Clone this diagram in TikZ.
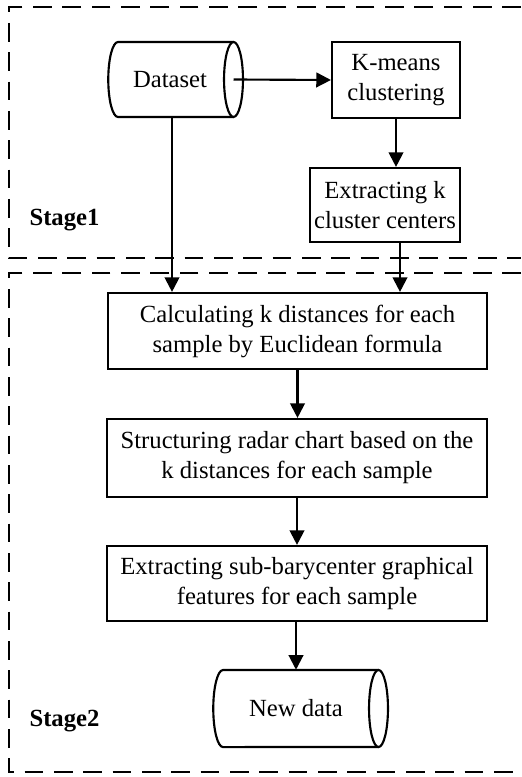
\documentclass[tikz,border=0pt]{standalone}
\usepackage{fontspec}
\setmainfont{Liberation Serif}
\usetikzlibrary{arrows.meta}
\begin{document}
\begin{tikzpicture}[x=0.75pt,y=-0.75pt,
  every node/.style={font=\fontsize{18.5}{22.5}\selectfont, inner sep=0pt},
  procbox/.style={draw, line width=1.6pt, rectangle, align=center},
  ghost/.style={rectangle, align=center},
  outline/.style={line width=1.6pt},
  arr/.style={line width=1.6pt, -{Triangle[length=11pt,width=11pt]}},
  stagebox/.style={line width=1.6pt, dash pattern=on 14pt off 8pt},
  stagelabel/.style={font=\fontsize{18.5}{22.5}\selectfont\bfseries}
]
\useasboundingbox (0,0) rectangle (521,777);

% stage frames (right side lies beyond the picture)
\draw[stagebox] (521,7) -- (9,7) -- (9,258) -- (521,258);
\draw[stagebox] (521,273) -- (9,273) -- (9,772) -- (521,772);
\node[stagelabel] (st1) at (64.5,220) {Stage1};
\node[stagelabel] (st2) at (64.5,721) {Stage2};

% Dataset cylinder
\node[ghost, minimum width=101.25pt, minimum height=56.25pt] (dataset) at (175.5,79.5) {};
\node (dstext) at (170,79.5) {Dataset};
\draw[outline] (233.5,42) -- (118,42)
  arc[start angle=90, end angle=270, x radius=7.3pt, y radius=28.125pt]
  -- (233.5,117);
\draw[outline] (233.5,79.5) ellipse [x radius=7.1pt, y radius=28.125pt];
\coordinate (dsR) at (233.5,79.5);
\coordinate (dsdown) at (172,117);

% Stage 1 boxes
\node[procbox, minimum width=96pt, minimum height=57pt] (kmeans) at (396,80) {K-means\\clustering};
\node[procbox, minimum width=112.5pt, minimum height=55.5pt] (extract) at (385,205) {Extracting k\\cluster centers};

% Stage 2 boxes
\node[procbox, minimum width=284.25pt, minimum height=57pt] (calc) at (297.5,331) {Calculating k distances for each\\sample by Euclidean formula};
\node[procbox, minimum width=285pt, minimum height=58.5pt] (struct) at (297,458) {Structuring radar chart based on the\\k distances for each sample};
\node[procbox, minimum width=285pt, minimum height=56.25pt] (bary) at (297,583.5) {Extracting sub-barycenter graphical\\features for each sample};

% New data cylinder
\node[ghost, minimum width=120pt, minimum height=57.75pt] (newdata) at (296,708.5) {New data};
\draw[outline] (378.5,670) -- (223,670)
  arc[start angle=90, end angle=270, x radius=7.3pt, y radius=28.9pt]
  -- (378.5,747);
\draw[outline] (378.5,708.5) ellipse [x radius=7.1pt, y radius=28.9pt];

% connectors
\draw[arr] (dsR) -- (kmeans.west);
\draw[arr] (kmeans.south) -- (kmeans.south |- extract.north);
\draw[arr] (dsdown) -- (dsdown |- calc.north);
\draw[arr] (extract.south -| 400,0) -- (calc.north -| 400,0);
\draw[arr] (calc.south) -- (calc.south |- struct.north);
\draw[arr] (struct.south) -- (struct.south |- bary.north);
\draw[arr] (bary.south -| newdata.north) -- (newdata.north);
\end{tikzpicture}
\end{document}
